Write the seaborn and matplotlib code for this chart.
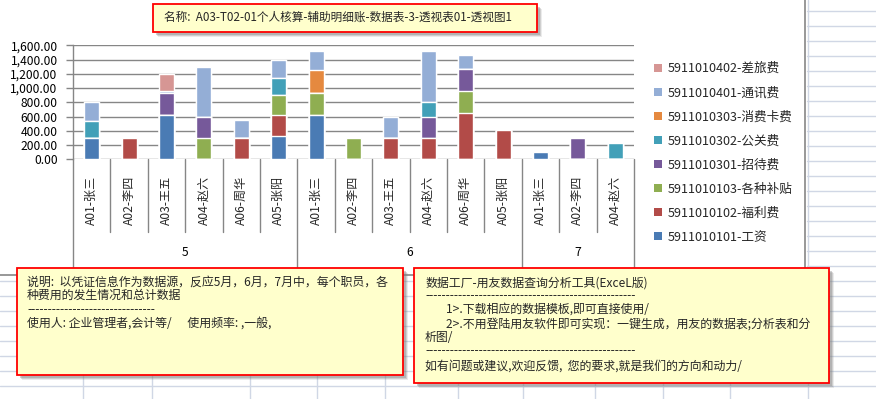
import matplotlib
matplotlib.use('Agg')
import matplotlib.pyplot as plt
import seaborn as sns
import pandas as pd
from matplotlib.patches import Rectangle, Patch
from matplotlib.lines import Line2D
from matplotlib.ticker import FuncFormatter

# ---------------- data ----------------
months = [5, 5, 5, 5, 5, 5, 6, 6, 6, 6, 6, 6, 7, 7, 7]
persons = ["A01-张三", "A02-李四", "A03-王五", "A04-赵六", "A06-周华", "A05-张阳",
           "A01-张三", "A02-李四", "A03-王五", "A04-赵六", "A06-周华", "A05-张阳",
           "A01-张三", "A02-李四", "A04-赵六"]
group_labels = ["5", "6", "7"]

# series, bottom to top of stack
series_names = ["5911010101-工资", "5911010102-福利费", "5911010103-各种补贴",
                "5911010301-招待费", "5911010302-公关费", "5911010303-消费卡费",
                "5911010401-通讯费", "5911010402-差旅费"]
wages       = [300, 0, 620, 0, 0, 330, 620, 0, 0, 0, 0, 0, 100, 0, 0]
welfare     = [0, 300, 0, 0, 300, 290, 0, 0, 300, 300, 650, 410, 0, 0, 0]
allowance   = [0, 0, 0, 300, 0, 280, 310, 300, 0, 0, 310, 0, 0, 0, 0]
hospitality = [0, 0, 310, 300, 0, 0, 0, 0, 0, 300, 310, 0, 0, 300, 0]
public_rel  = [240, 0, 0, 0, 0, 240, 0, 0, 0, 200, 0, 0, 0, 0, 230]
card_fee    = [0, 0, 0, 0, 0, 0, 320, 0, 0, 0, 0, 0, 0, 0, 0]
telecom     = [260, 0, 25, 700, 250, 260, 270, 0, 300, 720, 190, 0, 0, 0, 0]
travel      = [0, 0, 245, 0, 0, 0, 0, 0, 0, 0, 0, 0, 0, 0, 0]
series_values = [wages, welfare, allowance, hospitality, public_rel, card_fee, telecom, travel]
colors = ["#4A7BB4", "#B24B48", "#8FAE51", "#76599A", "#42A0B8", "#E5893F", "#94AED6", "#D69694"]

y_ticks = [0, 200, 400, 600, 800, 1000, 1200, 1400, 1600]

title_text = "名称:  A03-T02-01个人核算-辅助明细账-数据表-3-透视表01-透视图1"
box1_lines = ["说明:  以凭证信息作为数据源，反应5月，6月，7月中，每个职员，各",
              "种费用的发生情况和总计数据",
              "-" * 31,
              "使用人: 企业管理者,会计等/      使用频率: ,一般,"]
box2_lines = ["数据工厂-用友数据查询分析工具(ExceL版)",
              "-" * 51,
              "        1>.下载相应的数据模板,即可直接使用/",
              "        2>.不用登陆用友软件即可实现：一键生成，用友的数据表;分析表和分",
              "析图/",
              "-" * 51,
              "如有问题或建议,欢迎反馈,  您的要求,就是我们的方向和动力/"]

# ---------------- setup ----------------
sns.set_theme(style='white')
plt.rcParams['font.family'] = ['Noto Sans CJK SC', 'DejaVu Sans']

W, H = 876, 399
fig = plt.figure(figsize=(W / 100, H / 100), dpi=100)
fig.patch.set_facecolor('white')

def fx(x):
    return x / W

def fy(y):
    return 1 - y / H

# spreadsheet background grid
grid_c = '#D0D7E5'
y = 11.2
while y < H:
    if y > 275:
        fig.add_artist(Line2D([0, 1], [fy(y), fy(y)], color=grid_c, lw=1, zorder=-2))
    else:
        fig.add_artist(Line2D([fx(807), 1], [fy(y), fy(y)], color=grid_c, lw=1, zorder=-2))
    y += 15
for xv in [83, 152, 250, 317, 385, 458, 523, 595, 663, 730]:
    fig.add_artist(Line2D([fx(xv), fx(xv)], [fy(275), 0], color=grid_c, lw=1, zorder=-2))
fig.add_artist(Line2D([fx(808), fx(808)], [1, 0], color=grid_c, lw=1, zorder=-2))

# chart area border
fig.add_artist(Line2D([fx(805), fx(805)], [1, fy(275)], color='#868686', lw=1.2, zorder=1))
fig.add_artist(Line2D([0, fx(805)], [fy(275), fy(275)], color='#868686', lw=1.2, zorder=1))

# ---------------- axes ----------------
ax_top, ax_bot = 45.3, 159.3
ax = fig.add_axes([fx(73), fy(ax_bot), (634 - 73) / W, (ax_bot - ax_top) / H])
ax.set_facecolor('white')

keys = [f"{m}|{p}" for m, p in zip(months, persons)]
n = len(keys)
cum = []
run = [0] * n
for vals in series_values:
    run = [a + b for a, b in zip(run, vals)]
    cum.append(list(run))

for j in range(len(series_values) - 1, -1, -1):
    df = pd.DataFrame({'key': keys, 'total': cum[j]})
    sns.barplot(data=df, x='key', y='total', order=keys, color=colors[j],
                saturation=1, width=0.4, errorbar=None, ax=ax, zorder=3)

ax.set_xlim(-0.5, n - 0.5)
ax.set_ylim(0, 1600)
ax.set_yticks(y_ticks)
ax.yaxis.set_major_formatter(FuncFormatter(lambda v, p: f"{v:,.2f}"))
ax.grid(axis='y', color='#868686', lw=1, zorder=0)
ax.set_axisbelow(True)
for s in ['top', 'right', 'bottom']:
    ax.spines[s].set_visible(False)
ax.spines['left'].set_color('#868686')
ax.spines['left'].set_linewidth(1)
ax.tick_params(axis='y', length=5, width=1, color='#868686', labelsize=8.7, pad=6,
               left=True, labelcolor='black')
ax.set_xticks(range(n))
ax.set_xticklabels(persons, rotation=90, va='top', ha='center', fontsize=8.7)
ax.tick_params(axis='x', length=0, pad=12)
ax.set_xlabel('')
ax.set_ylabel('')

# hierarchical axis lines
axh = ax_bot - ax_top
inner_end = -(232 - ax_bot) / axh
outer_end = -(272 - ax_bot) / axh
group_bounds = [-0.5, 5.5, 11.5, n - 0.5]
tr = ax.get_xaxis_transform()
for b in [i - 0.5 for i in range(n + 1)]:
    end = outer_end if b in group_bounds else inner_end
    ax.add_line(Line2D([b, b], [0, end], color='#868686', lw=1, transform=tr, clip_on=False))
for gi, lab in enumerate(group_labels):
    c = (group_bounds[gi] + group_bounds[gi + 1]) / 2
    ax.text(c, -(253 - ax_bot) / axh, lab, transform=tr, ha='center', va='center',
            fontsize=8.7, color='black')

# legend (top entry = last series)
handles = [Patch(facecolor=colors[j], edgecolor='none') for j in range(len(series_names) - 1, -1, -1)]
labels = [series_names[j] for j in range(len(series_names) - 1, -1, -1)]
fig.legend(handles, labels, loc='upper left', bbox_to_anchor=(fx(654), fy(62)),
           bbox_transform=fig.transFigure, frameon=False, fontsize=9.1,
           handlelength=0.6, handleheight=0.6, handletextpad=0.45, labelspacing=0.88,
           borderpad=0, borderaxespad=0)

# ---------------- text boxes ----------------
def note_box(x0, y0, x1, y1):
    for k, a in [(5, 0.15), (4, 0.25), (3, 0.35)]:
        fig.add_artist(Rectangle((fx(x0 + k), fy(y1 + k)), (x1 - x0) / W, (y1 - y0) / H,
                                 transform=fig.transFigure, facecolor='#7F7F7F',
                                 edgecolor='none', alpha=a, zorder=8))
    fig.add_artist(Rectangle((fx(x0), fy(y1)), (x1 - x0) / W, (y1 - y0) / H,
                             transform=fig.transFigure, facecolor='#FFFFCC',
                             edgecolor='#FF0000', lw=1.3, zorder=9))

note_box(153, 4, 537, 32)
fig.text(fx(164), fy(17.5), title_text, fontsize=8.4, va='center', ha='left', zorder=10)

note_box(17, 268, 403, 375)
for txt, yy in zip(box1_lines, [281.7, 295.5, 309.5, 323.5]):
    fig.text(fx(27), fy(yy), txt, fontsize=8.6, va='center', ha='left', zorder=10)

note_box(414, 268, 829, 383)
for txt, yy in zip(box2_lines, [283, 295.5, 309.5, 324, 337.5, 351, 366]):
    fig.text(fx(425), fy(yy), txt, fontsize=8.6, va='center', ha='left', zorder=10)

fig.savefig('out.png', dpi=100, facecolor='white')
